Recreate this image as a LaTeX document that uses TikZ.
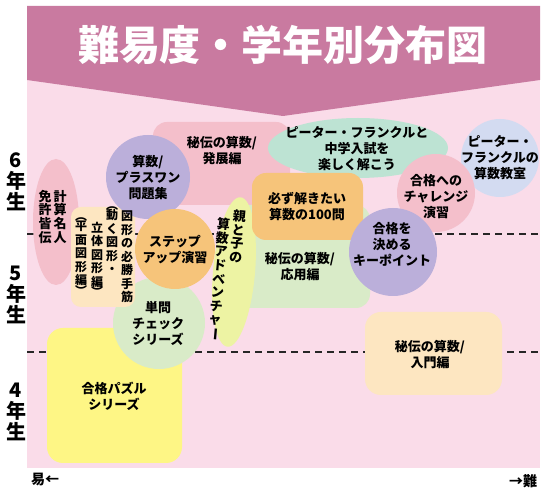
\documentclass[tikz,border=0pt]{standalone}
\usepackage{fontspec}
\usepackage{graphicx}
\setmainfont{Noto Sans CJK JP}

\definecolor{kopf}{HTML}{C97AA0}
\definecolor{grund}{HTML}{FADCE9}
\definecolor{rosa}{HTML}{F4BFCB}
\definecolor{lila}{HTML}{BBAFDA}
\definecolor{mint}{HTML}{BDE3D3}
\definecolor{hblau}{HTML}{D3DBF1}
\definecolor{orangeb}{HTML}{F6C47A}
\definecolor{gruen}{HTML}{D9EBC8}
\definecolor{gelb}{HTML}{FEF685}
\definecolor{creme}{HTML}{FDE6C1}
\definecolor{lgelb}{HTML}{EDF3A3}

\begin{document}
\begin{tikzpicture}[x=1pt, y=-1pt,
    txt/.style={font=\bfseries\fontsize{13}{16}\selectfont, align=center, inner sep=0pt},
    tate/.style={font=\bfseries\fontsize{13}{13.6}\selectfont, align=center, inner sep=0pt, anchor=north},
    tatek/.style={tate, font=\bfseries\fontsize{12}{13.5}\selectfont},
    stufe/.style={font=\bfseries\fontsize{20}{21}\selectfont, align=center, inner sep=0pt},
    trenn/.style={line width=1.2pt, dash pattern=on 7pt off 5pt, black!85}]
    \useasboundingbox (0,0) rectangle (550,494);

    % Grund und Kopf
    \fill[grund] (27,6) rectangle (540,468);
    \fill[kopf] (27,6) -- (540,6) -- (540,80) -- (283,116) -- (27,80) -- cycle;
    \node[font=\bfseries\fontsize{41}{41}\selectfont, text=white, inner sep=0pt] (titel) at (283,45) {難易度・学年別分布図};

    % Trennlinien Klassenstufen
    \draw[trenn] (27,234) -- (540,234);
    \draw[trenn] (27,352) -- (540,352);

    % Flaechen der Buecher
    \fill[rosa, rounded corners=14pt] (153,122) rectangle (290,205);
    \fill[mint] (358,148) ellipse [x radius=90, y radius=30];
    \fill[gruen, rounded corners=14pt] (235,205) rectangle (370,308);
    \fill[gelb, rounded corners=16pt] (47,328) rectangle (182,463);
    \fill[creme, rounded corners=16pt] (365,312) rectangle (502,395);
    \fill[rosa] (56,222) ellipse [x radius=23, y radius=63];
    \fill[gruen] (159,323) circle [radius=46];
    \fill[creme, rounded corners=10pt] (71,207) rectangle (135,307);
    \fill[lila] (148,177) circle [radius=42];
    \fill[orangeb] (175,249) circle [radius=40];
    \fill[lgelb, rotate around={-5:(234,272)}] (234,272) ellipse [x radius=21, y radius=75];
    \fill[orangeb, rounded corners=14pt] (252,173) rectangle (363,240);
    \fill[hblau] (500,158) circle [radius=39];
    \fill[rosa] (436,193) circle [radius=39];
    \fill[lila] (393,252) circle [radius=44];

    % Buchtitel
    \node[txt] (hatten) at (222,151) {秘伝の算数/\\発展編};
    \node[txt] (plusone) at (148,178) {算数/\\プラスワン\\問題集};
    \node[txt] (frankl1) at (357,149) {ピーター・フランクルと\\中学入試を\\楽しく解こう};
    \node[txt] (frankl2) at (500,158) {ピーター・\\フランクルの\\算数教室};
    \node[txt] (challenge) at (436,197) {合格への\\チャレンジ\\演習};
    \node[txt] (hyaku) at (307,207) {必ず解きたい\\算数の100問};
    \node[txt] (keypoint) at (392,244) {合格を\\決める\\キーポイント};
    \node[txt] (oyo) at (300,267) {秘伝の算数/\\応用編};
    \node[txt] (stepup) at (175,250) {ステップ\\アップ演習};
    \node[txt] (tanmon) at (158,323) {単問\\チェック\\シリーズ};
    \node[txt] (puzzle) at (114,396) {合格パズル\\シリーズ};
    \node[txt] (nyumon) at (430,355) {秘伝の算数/\\入門編};

    % senkrechte Titel
    \node[tate] (keisan1) at (60,190) {計\\算\\名\\人};
    \node[tate] (keisan2) at (45,190) {免\\許\\皆\\伝};
    \node[tatek] (zukei1) at (127,211) {図\\形\\の\\必\\勝\\手\\筋};
    \node[tatek] (zukei2) at (112,206) {︵\\[-3pt]動\\く\\図\\形\\・};
    \node[tatek] (zukei3) at (97,222) {立\\体\\図\\形\\編\\[-3pt]︶};
    \node[tatek] (zukei4) at (81,217) {︵\\[-3pt]平\\面\\図\\形\\編\\[-3pt]︶};
    \node[tate, rotate=-5] (oyako1) at (240,210) {親\\と\\子\\の};
    \node[tate, rotate=-5] (oyako2) at (224,218) {算\\数\\ア\\ド\\ベ\\ン\\チ\\ャ\\\rotatebox[origin=c]{-90}{ー}};

    % Klassenstufen
    \node[stufe] (stufe6) at (16,182) {6\\年\\生};
    \node[stufe] (stufe5) at (16,295) {5\\年\\生};
    \node[stufe] (stufe4) at (16,412) {4\\年\\生};

    % Achse leicht - schwer
    \node[font=\bfseries\fontsize{14}{14}\selectfont, inner sep=0pt] (leicht) at (45,480) {易←};
    \node[font=\bfseries\fontsize{14}{14}\selectfont, inner sep=0pt] (schwer) at (523,481) {→難};
\end{tikzpicture}
\end{document}
